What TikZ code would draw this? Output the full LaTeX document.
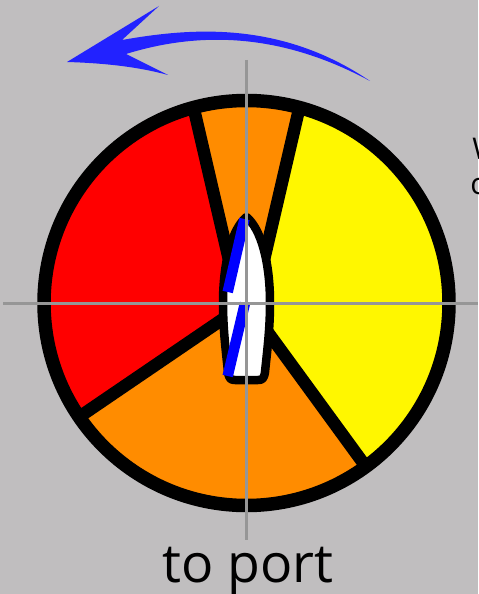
\documentclass[tikz,border=0pt]{standalone}
\usepackage{xcolor}
\usepackage{fontspec}
\setmainfont{Open Sans}
\usetikzlibrary{calc}
\definecolor{wpBack}  {RGB}{192,190,191}
\definecolor{wpRed}   {RGB}{255,  0,  0}
\definecolor{wpOrange}{RGB}{255,140,  0}
\definecolor{wpYellow}{RGB}{255,247,  0}
\definecolor{wpBlue}  {RGB}{  0,  0,255}
\definecolor{wpArrow} {RGB}{ 34, 34,255}
\definecolor{wpGrey}  {RGB}{150,150,150}

\begin{document}
\begin{tikzpicture}[
  x=0.02cm,y=-0.02cm,
  rim/.style={draw=black,line width=0.27cm},
  spoke/.style={draw=black,line width=0.25cm},
  hull/.style={draw=black,fill=white,line width=0.17cm,line join=round},
  sail/.style={draw=wpBlue,line width=0.21cm},
  axis/.style={draw=wpGrey,line width=0.06cm},
  label/.style={text=black,inner sep=0pt}
]
\useasboundingbox (0,0) rectangle (478,594);
\fill[wpBack] (0,0) rectangle (478,594);

\coordinate (HUB) at (246.5,303);
\coordinate (TL) at (186,75);
\coordinate (TLin) at (246.5,335);
\coordinate (TR) at (307,75);
\coordinate (BL) at (60,430);
\coordinate (BR) at (380,486);

% sectors
\begin{scope}
  \clip (HUB) circle[radius=202.5];
  \fill[wpOrange] (0,0) rectangle (478,594);
  \fill[wpRed] (HUB) -- (BL) -- (0,430) -- (0,0) -- (TL) -- (TLin) -- cycle;
  \fill[wpYellow] (HUB) -- (BR) -- (478,486) -- (478,0) -- (TR) -- (TLin) -- cycle;
  \draw[spoke] (TLin) -- (TL);
  \draw[spoke] (TLin) -- (TR);
  \draw[spoke] (HUB) -- (BL);
  \draw[spoke] (HUB) -- (BR);
\end{scope}
\draw[rim] (HUB) circle[radius=202.5];

% boat
\draw[hull] (246.5,217) .. controls (261,229) and (270,262) .. (270,303)
  .. controls (270,330) and (267,352) .. (265,372)
  .. controls (264,379) and (262,380) .. (258,380) -- (235,380)
  .. controls (231,380) and (229,379) .. (228,372)
  .. controls (226,352) and (223,330) .. (223,303)
  .. controls (223,262) and (232,229) .. cycle;
\coordinate (SailA) at (244.5,219);
\coordinate (SailB) at (227.7,292);
\coordinate (SailC) at (245,303);
\coordinate (SailD) at (227.7,376);
\draw[sail] (SailA) -- (SailB);
\draw[sail] (SailC) -- (SailD);

% cross hair
\draw[axis] (246.5,60) -- (246.5,540);
\draw[axis] (3,303) -- (478,303);

% turning arrow
\fill[wpArrow] (67,62) -- (159,6) -- (122,40)
  .. controls (190,28) and (280,20) .. (370,81)
  .. controls (290,38) and (210,28) .. (126,54)
  -- (168,75) .. controls (135,66) and (100,63) .. cycle;

\node[label,font=\fontsize{30.5}{30.5}\selectfont,anchor=base] (PORT) at (248,582) {to port};
\node[label,font=\fontsize{17}{17}\selectfont,anchor=base west] (CUTA) at (472,160) {W};
\node[label,font=\fontsize{17}{17}\selectfont,anchor=base west] (CUTB) at (470,195) {c};
\end{tikzpicture}
\end{document}
